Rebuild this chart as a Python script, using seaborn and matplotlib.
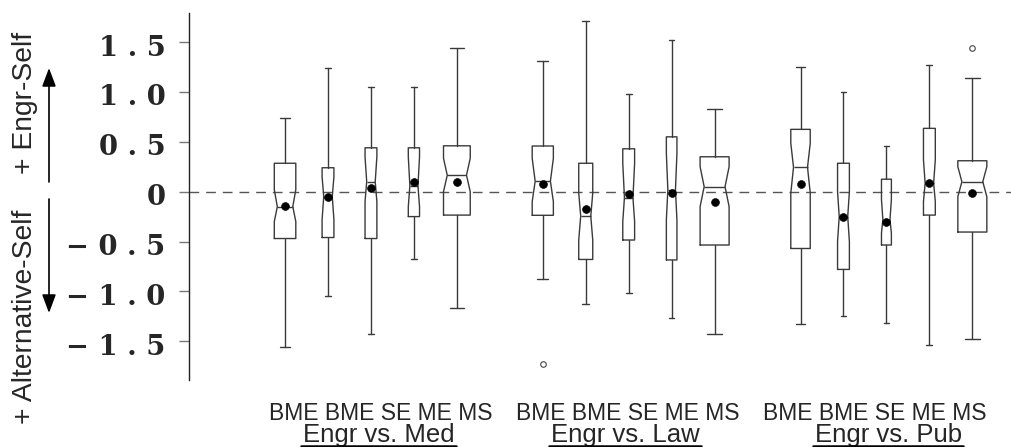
import numpy as np
import matplotlib
matplotlib.use("Agg")
import matplotlib.pyplot as plt
from matplotlib import transforms
from matplotlib.lines import Line2D
import seaborn as sns

# comparison groups and the majors shown under each group
comparisons = ["Engr vs. Med", "Engr vs. Law", "Engr vs. Pub"]
majors = ["BME", "BME", "SE", "ME", "MS"]

# box statistics, one value per box: Med x5, Law x5, Pub x5
whisker_low = [-1.56, -1.05, -1.43, -0.675, -1.17,
               -0.88, -1.13, -1.015, -1.265, -1.43,
               -1.33, -1.245, -1.32, -1.54, -1.48]
q1 = [-0.47, -0.46, -0.47, -0.25, -0.235,
      -0.237, -0.68, -0.485, -0.685, -0.535,
      -0.57, -0.78, -0.535, -0.235, -0.405]
median = [-0.15, -0.05, 0.10, 0.06, 0.165,
          0.105, -0.245, -0.06, 0.02, 0.05,
          0.245, -0.25, -0.28, 0.085, 0.10]
q3 = [0.285, 0.24, 0.44, 0.44, 0.46,
      0.458, 0.285, 0.43, 0.55, 0.35,
      0.625, 0.285, 0.125, 0.635, 0.31]
whisker_high = [0.74, 1.245, 1.05, 1.05, 1.445,
                1.315, 1.715, 0.98, 1.52, 0.825,
                1.255, 1.0, 0.46, 1.27, 1.145]
mean = [-0.145, -0.05, 0.035, 0.10, 0.10,
        0.074, -0.175, -0.02, -0.015, -0.105,
        0.075, -0.25, -0.305, 0.085, -0.01]
notch_low = [-0.30, -0.28, -0.10, -0.15, 0.0,
             -0.10, -0.485, -0.30, -0.285, -0.15,
             -0.015, -0.50, -0.415, -0.10, -0.05]
notch_high = [0.02, 0.15, 0.35, 0.35, 0.335,
              0.335, -0.015, 0.285, 0.385, 0.25,
              0.485, 0.0, -0.08, 0.32, 0.25]
n_students = [33, 10, 10, 9, 51,
              32, 14, 10, 8, 60,
              27, 10, 7, 10, 60]
outliers = [[], [], [], [], [],
            [-1.73], [], [], [], [],
            [], [], [], [], [1.445]]

ytick_values = [-1.5, -1.0, -0.5, 0, 0.5, 1.0, 1.5]
ytick_labels = ["\u2212 1 . 5", "\u2212 1 . 0", "\u2212 0 . 5", "0",
                "0 . 5", "1 . 0", "1 . 5"]

sns.set_style("white")
plt.rcParams["font.family"] = ["Liberation Sans", "DejaVu Sans"]

W, H = 1011, 447
fig = plt.figure(figsize=(W / 100, H / 100), dpi=100)
ax = fig.add_axes([189 / W, 67 / H, 822 / W, 367 / H])

positions = [g * 6 + i + 1 for g in range(len(comparisons)) for i in range(len(majors))]
widths = 0.675 * np.sqrt(np.array(n_students) / max(n_students))

stats = []
for k in range(len(positions)):
    stats.append(dict(med=median[k], q1=q1[k], q3=q3[k],
                      whislo=whisker_low[k], whishi=whisker_high[k],
                      cilo=notch_low[k], cihi=notch_high[k],
                      fliers=outliers[k]))

line_c = "#3a3a3a"
ax.axhline(0, color="#555555", lw=1.0, dashes=(7, 5), zorder=1)
parts = ax.bxp(stats, positions=positions, widths=widths, shownotches=True,
               showmeans=False, manage_ticks=False,
               boxprops=dict(color=line_c, lw=1),
               whiskerprops=dict(color=line_c, lw=1),
               capprops=dict(color=line_c, lw=1),
               medianprops=dict(color=line_c, lw=1),
               flierprops=dict(marker="o", markersize=4, markerfacecolor="none",
                               markeredgecolor="#444444", markeredgewidth=0.8))

# the notches in the original are shallower than matplotlib's default
for box, med, p, w in zip(parts["boxes"], parts["medians"], positions, widths):
    xs = np.asarray(box.get_xdata(), dtype=float)
    inner = np.isclose(np.abs(xs - p), 0.25 * w)
    xs[inner] = p + np.sign(xs[inner] - p) * 0.36 * w
    box.set_xdata(xs)
    med.set_xdata([p - 0.36 * w, p + 0.36 * w])

sns.scatterplot(x=positions, y=mean, color="black", s=32, edgecolor="black",
                zorder=4, legend=False, ax=ax)

ax.set_xlim(-1.236, 17.9)
ax.set_ylim(-1.889, 1.792)
ax.set_xticks([])
ax.set_yticks(ytick_values)
ax.set_yticklabels(ytick_labels, family=["DejaVu Serif"],
                   fontweight="bold", fontsize=19.7)
ax.tick_params(axis="y", length=7, width=1, color="#777777", pad=10, left=True)
shift = transforms.ScaledTranslation(0, -3 / 100, fig.dpi_scale_trans)
for lab in ax.get_yticklabels():
    lab.set_transform(lab.get_transform() + shift)
sns.despine(ax=ax, top=True, right=True, bottom=True)
ax.spines["left"].set_color("#222222")
ax.spines["left"].set_linewidth(1)
ax.set_xlabel("")
ax.set_ylabel("")

# major names and comparison titles under each group
row_tr = transforms.blended_transform_factory(ax.transData, fig.transFigure)
label_offsets = [0.22, -0.03, -0.28]
title_offsets = [0.19, -0.07, 0.04]
titles = []
for g, name in enumerate(comparisons):
    center = g * 6 + 3
    ax.text(center + label_offsets[g], (H - 419.5) / H, " ".join(majors),
            transform=row_tr, ha="center", va="baseline", fontsize=16.5)
    titles.append(ax.text(center + title_offsets[g], (H - 442) / H, name,
                          transform=row_tr, ha="center", va="baseline",
                          fontsize=18.5))

fig.canvas.draw()
renderer = fig.canvas.get_renderer()
for t in titles:
    bb = t.get_window_extent(renderer)
    fig.add_artist(Line2D([(bb.x0 - 2) / W, (bb.x1 + 1) / W], [(H - 446) / H] * 2,
                          transform=fig.transFigure, color="black", lw=1.8))

# direction labels on the left
fig.text(25 / W, 1 - 103 / H, "+ Engr-Self", rotation=90, ha="center", va="center",
         fontsize=20.3)
fig.text(25 / W, 1 - 316.5 / H, "+ Alternative-Self", rotation=90, ha="center",
         va="center", fontsize=20.3)
arrow = dict(arrowstyle="-|>,head_length=0.8,head_width=0.3", color="black",
             lw=1.2, mutation_scale=14, shrinkA=0, shrinkB=0)
ax.annotate("", xy=(49 / W, 1 - 68 / H), xytext=(49 / W, 1 - 182 / H),
            xycoords="figure fraction", textcoords="figure fraction",
            arrowprops=arrow, annotation_clip=False)
ax.annotate("", xy=(49 / W, 1 - 313 / H), xytext=(49 / W, 1 - 199 / H),
            xycoords="figure fraction", textcoords="figure fraction",
            arrowprops=arrow, annotation_clip=False)

fig.savefig("out.png", dpi=100)
